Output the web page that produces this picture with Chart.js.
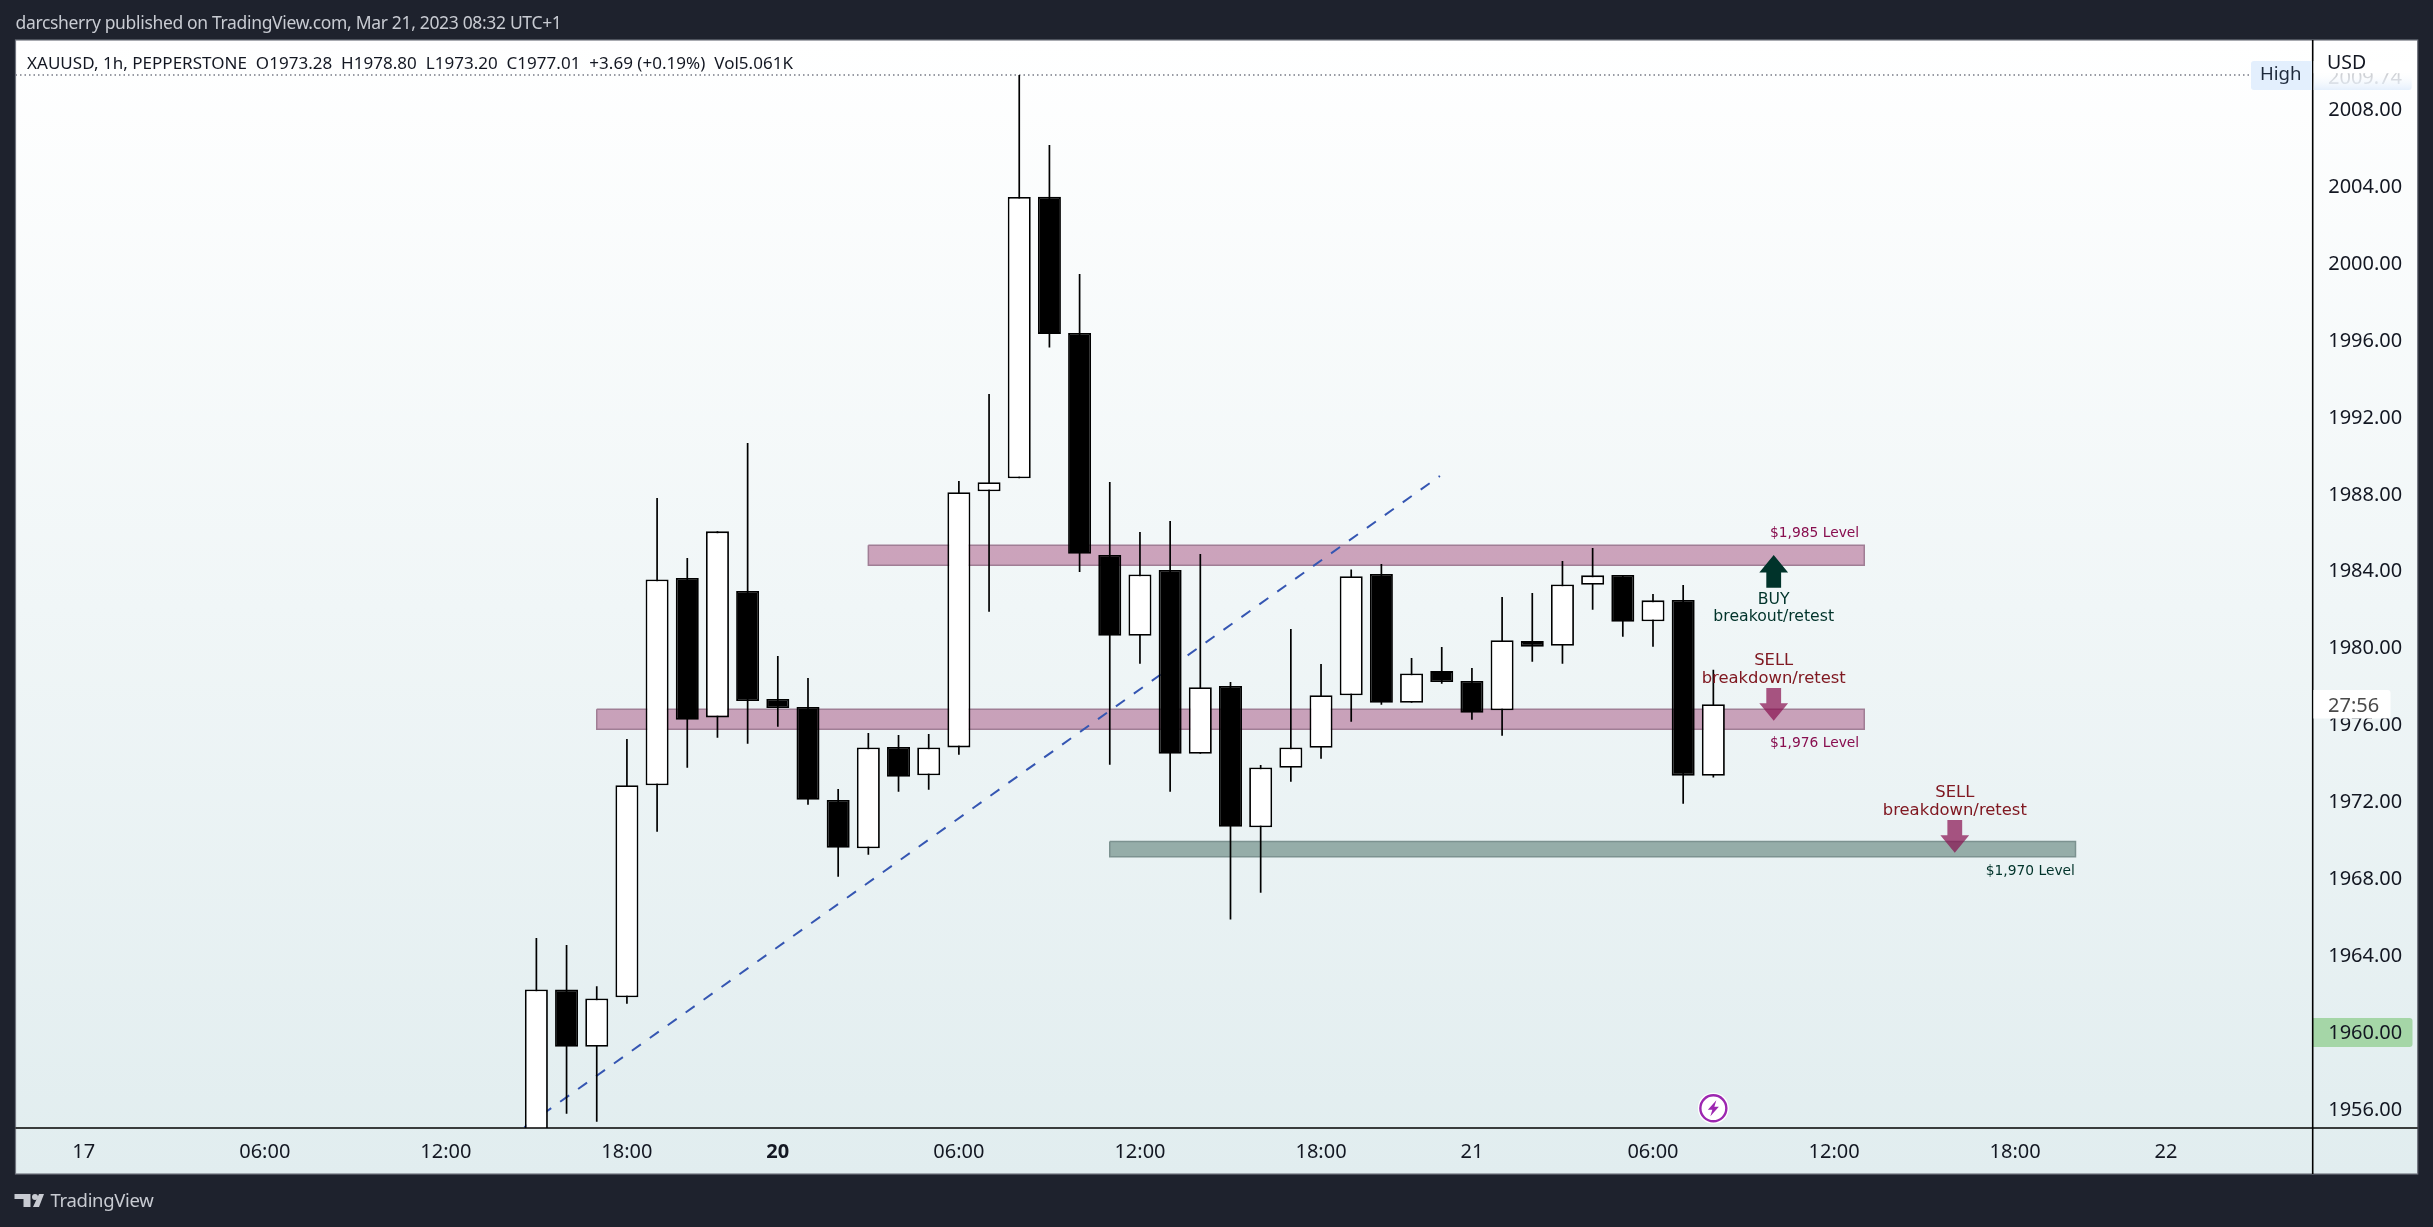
<!DOCTYPE html>
<html>
<head>
<meta charset="utf-8">
<script src="https://cdn.jsdelivr.net/npm/chart.js@4"></script>
<style>
html,body{margin:0;padding:0;background:#1e222d;width:2433px;height:1227px;overflow:hidden}
canvas{position:absolute;left:0;top:0;display:block}
.t{position:absolute;white-space:pre;font-family:"Noto Sans",sans-serif;line-height:1}
svg{position:absolute;left:0;top:0}
</style>
</head>
<body>
<canvas id="c" width="2433" height="1227"></canvas>
<div class="t" id="head" data-w="546" style="left:15.5px;top:14px;font-size:17.5px;color:#c8cbd2">darcsherry published on TradingView.com, Mar 21, 2023 08:32 UTC+1</div>
<div class="t" id="leg" data-w="766" style="left:27px;top:54px;font-size:17px;color:#131722">XAUUSD, 1h, PEPPERSTONE  O1973.28  H1978.80  L1973.20  C1977.01  +3.69 (+0.19%)  Vol5.061K</div>
<div class="t" id="usd" style="left:2327px;top:51.5px;font-size:19.5px;color:#131722">USD</div>
<div class="t" id="high" style="left:2260px;top:64px;font-size:18.6px;color:#1e2a3c">High</div>
<svg width="60" height="1227"><g fill="#c8cbd2"><path d="M14.5 1194h16v13h-7v-8h-9z"/><circle cx="35" cy="1197" r="3"/><path d="M33 1207l6-13h5l-5 13z"/></g></svg>
<div class="t" id="tv" data-w="103" style="left:50.5px;top:1191px;font-size:18.5px;color:#c8cbd2">TradingView</div>
<script>
// Candles, one per hour, oldest first
const candleIdx = [0,1,2,3,4,5,6,7,8,9,10,11,12,13,14,15,16,17,18,19,20,21,22,23,24,25,26,27,28,29,30,31,32,33,34,35,36,37,38,39];
const opens  = [1953.8,1962.17,1959.19,1961.76,1972.79,1983.57,1976.32,1982.90,1977.28,1976.86,1972.02,1969.51,1974.78,1973.31,1974.76,1988.08,1988.76,2003.40,1996.32,1984.77,1980.57,1983.99,1974.43,1977.95,1970.60,1973.70,1974.74,1977.47,1983.78,1977.08,1978.73,1978.21,1976.69,1980.29,1980.05,1983.22,1983.73,1981.32,1982.43,1973.28];
const highs  = [1964.84,1964.48,1962.34,1975.20,1987.73,1984.61,1986.00,1990.60,1979.51,1978.37,1972.59,1975.51,1975.40,1975.46,1988.62,1993.15,2009.74,2006.10,1999.39,1988.57,1985.97,1986.54,1984.82,1978.16,1973.84,1980.92,1979.10,1984.02,1984.30,1979.41,1979.98,1978.89,1982.58,1982.79,1984.46,1985.13,1983.73,1982.74,1983.21,1978.80];
const lows   = [1953.5,1955.70,1955.28,1961.42,1970.37,1973.70,1975.26,1974.95,1975.84,1971.78,1968.03,1969.18,1972.45,1972.56,1974.38,1981.82,1988.76,1995.56,1983.89,1973.86,1979.11,1972.45,1974.43,1965.81,1967.20,1972.97,1974.17,1976.10,1976.98,1977.08,1978.07,1976.20,1975.37,1979.22,1979.11,1981.92,1980.52,1980.00,1971.83,1973.20];
const closes = [1962.17,1959.19,1961.70,1972.79,1983.50,1976.20,1986.00,1977.17,1976.81,1972.04,1969.54,1974.76,1973.23,1974.76,1988.03,1988.55,2003.39,1996.27,1984.83,1980.57,1983.76,1974.43,1977.89,1970.63,1973.72,1974.76,1977.47,1983.66,1977.08,1978.61,1978.16,1976.56,1980.33,1980.00,1983.24,1983.71,1981.30,1982.41,1973.29,1977.01];

// Axes
const timeTickIdx = [-15,-9,-3,3,8,14,20,26,31,37,43,49,54];
const timeTickLabels = ["17","06:00","12:00","18:00","20","06:00","12:00","18:00","21","06:00","12:00","18:00","22"];
const priceTicks = [1956,1960,1964,1968,1972,1976,1980,1984,1988,1992,1996,2000,2004,2008];
const highPrice = 2009.74;
const lastPrice = 1960;

// Drawings
const zoneLeft   = [11,2,19];
const zoneRight  = [44,44,51];
const zoneTop    = [1985.27,1976.74,1969.87];
const zoneBottom = [1984.23,1975.70,1969.07];
const trendIdx   = [-0.4,29.94];
const trendPrice = [1955,1988.88];
const arrowIdx   = [41,41,47];
const arrowTip   = [1984.77,1976.15,1969.28];
const arrowDir   = [1,-1,-1];
const levelText  = ["$1,985 Level","$1,976 Level","$1,970 Level"];
const levelIdx   = [43.83,43.83,50.98];
const levelPrice = [1985.98,1975.06,1968.43];
const noteText   = ["BUY","breakout/retest","SELL","breakdown/retest","SELL","breakdown/retest"];
const noteIdx    = [41,41,41,41,47,47];
const notePrice  = [1982.52,1981.65,1979.36,1978.42,1972.49,1971.55];
const eventIdx   = 39;
const timerText  = "27:56";

const FX = {l:15.5,t:40,r:2417.7,b:1174};
const AXISFONT = '"Noto Sans",sans-serif';
const TEXT_DROP = 2;          // px: glyphs sit this far below the value they label
const TICK_DROP = 0.1;        // same drop for the price tick labels, in price units

const framePlugin = {
  id:'frame',
  beforeDraw(ch){
    const c=ch.ctx, y=ch.scales.y;
    c.save();
    c.fillStyle='#1e222d'; c.fillRect(0,0,2433,1227);
    const g=c.createLinearGradient(0,FX.t,0,FX.b);
    g.addColorStop(0,'#ffffff'); g.addColorStop(1,'#e1edef');
    c.fillStyle=g; c.fillRect(FX.l,FX.t,FX.r-FX.l,FX.b-FX.t);
    c.strokeStyle='#70747e'; c.lineWidth=1.2;
    c.strokeRect(FX.l,FX.t,FX.r-FX.l,FX.b-FX.t);
    // last-price tag sits under the library's tick label
    const yy=y.getPixelForValue(lastPrice);
    c.fillStyle='#a5d6a7';
    c.beginPath(); c.roundRect(ch.chartArea.right,yy-13,99.8,29,[0,3,3,0]); c.fill();
    c.restore();
  },
  beforeDatasetsDraw(ch){
    const c=ch.ctx, y=ch.scales.y;
    c.save();
    c.strokeStyle='#787b86'; c.lineWidth=1.3; c.setLineDash([1.5,3]);
    const hy=y.getPixelForValue(highPrice);
    c.beginPath(); c.moveTo(FX.l,hy); c.lineTo(2251,hy); c.stroke();
    c.restore();
  },
  afterDatasetsDraw(ch){
    const c=ch.ctx, x=ch.scales.x, y=ch.scales.y;
    c.save();
    // arrows
    arrowIdx.forEach((ai,k)=>{
      const px=x.getPixelForValue(ai), py=y.getPixelForValue(arrowTip[k]), d=arrowDir[k];
      c.fillStyle = d>0 ? '#00332a' : 'rgba(136,14,79,0.7)';
      c.beginPath();
      c.moveTo(px,py);
      c.lineTo(px+14.4,py+d*17.5);
      c.lineTo(px+7.4,py+d*17.5);
      c.lineTo(px+7.4,py+d*32.7);
      c.lineTo(px-7.4,py+d*32.7);
      c.lineTo(px-7.4,py+d*17.5);
      c.lineTo(px-14.4,py+d*17.5);
      c.closePath(); c.fill();
    });
    // level captions
    c.textBaseline='middle';
    c.font='13.8px "DejaVu Sans"'; c.textAlign='right';
    levelText.forEach((s,k)=>{
      c.fillStyle = k<2 ? '#880e4f' : '#00332a';
      c.fillText(s,x.getPixelForValue(levelIdx[k]),y.getPixelForValue(levelPrice[k])+TEXT_DROP);
    });
    // notes
    c.textAlign='center';
    noteText.forEach((s,k)=>{
      c.fillStyle = k<2 ? '#00332a' : '#801922';
      c.font = (k<2?'15.7px':'16.4px')+' "DejaVu Sans"';
      c.fillText(s,x.getPixelForValue(noteIdx[k]),y.getPixelForValue(notePrice[k])+TEXT_DROP);
    });
    // event marker
    const ex=x.getPixelForValue(eventIdx), ey=1108.3;
    c.fillStyle='#ffffff'; c.beginPath(); c.arc(ex,ey,15.5,0,Math.PI*2); c.fill();
    c.strokeStyle='#9c27b0'; c.lineWidth=2.4; c.beginPath(); c.arc(ex,ey,13,0,Math.PI*2); c.stroke();
    c.fillStyle='#9c27b0'; c.beginPath();
    [[3,-8],[-5.5,1.5],[-1,1.5],[-3,8],[5.5,-1.5],[1,-1.5]].forEach((p,i)=>{i?c.lineTo(ex+p[0],ey+p[1]):c.moveTo(ex+p[0],ey+p[1]);});
    c.closePath(); c.fill();
    c.restore();
  },
  afterDraw(ch){
    const c=ch.ctx, y=ch.scales.y, a=ch.chartArea;
    c.save();
    // axis rules
    c.strokeStyle='#000000'; c.lineWidth=1.6;
    c.beginPath(); c.moveTo(FX.l,a.bottom); c.lineTo(FX.r,a.bottom); c.stroke();
    c.beginPath(); c.moveTo(a.right,FX.t); c.lineTo(a.right,FX.b); c.stroke();
    // hidden high price under its tag
    const hy=y.getPixelForValue(highPrice);
    c.font='20px '+AXISFONT; c.textAlign='left'; c.textBaseline='middle';
    c.fillStyle='#b7bac0'; c.fillText(highPrice.toFixed(2),2328,hy+3);
    const g=c.createLinearGradient(0,61,0,90);
    g.addColorStop(0,'#ffffff'); g.addColorStop(0.4,'rgba(255,255,255,1)');
    g.addColorStop(0.44,'rgba(255,255,255,0.3)'); g.addColorStop(1,'rgba(226,238,252,0.9)');
    c.fillStyle=g; c.beginPath(); c.roundRect(a.right+1,61,98,29,[0,3,3,0]); c.fill();
    c.fillStyle='#e3effd'; c.beginPath(); c.roundRect(2251,61,a.right-2251-0.8,29,[3,0,0,3]); c.fill();
    // countdown tag
    c.fillStyle='#ffffff'; c.beginPath(); c.roundRect(a.right+0.8,690,77,28.6,[0,3,3,0]); c.fill();
    c.fillStyle='#4a4a4a'; c.font='20px '+AXISFONT; c.fillText(timerText,2328,706);
    c.restore();
  }
};

const zoneFills = ['rgba(136,14,79,0.36)','rgba(136,14,79,0.36)','rgba(0,50,35,0.36)'];
const zoneEdges = ['#a07e95','#a07e95','#7c9290'];
const zoneSets = zoneLeft.map((l,k)=>({
  type:'line', order:5,
  data:[{x:l,y:zoneTop[k]},{x:zoneRight[k],y:zoneTop[k]},{x:zoneRight[k],y:zoneBottom[k]},{x:l,y:zoneBottom[k]},{x:l,y:zoneTop[k]}],
  borderColor:zoneEdges[k], borderWidth:1.5, backgroundColor:zoneFills[k], fill:'shape', pointRadius:0, tension:0
}));

new Chart(document.getElementById('c'),{
  type:'bar',
  plugins:[framePlugin],
  data:{datasets:[
    {type:'bar',order:1,data:candleIdx.map((i,k)=>({x:i,y:[opens[k],closes[k]]})),
     backgroundColor:candleIdx.map((i,k)=>closes[k]>=opens[k]?'#ffffff':'#000000'),
     borderColor:'#000000',borderWidth:1.8,borderSkipped:false,inflateAmount:0,barThickness:23,grouped:false},
    {type:'bar',order:2,data:candleIdx.map((i,k)=>({x:i,y:[lows[k],highs[k]]})),
     backgroundColor:'#000000',borderWidth:0,inflateAmount:0,barThickness:1.7,grouped:false},
    {type:'line',order:4,data:trendIdx.map((i,k)=>({x:i,y:trendPrice[k]})),
     borderColor:'#3556b2',borderWidth:2,borderDash:[11,11],pointRadius:0,fill:false,tension:0},
    ...zoneSets
  ]},
  options:{
    responsive:false, animation:false, devicePixelRatio:1,
    events:[],
    layout:{padding:{left:15.5,top:40,right:15.3,bottom:53}},
    plugins:{legend:{display:false},tooltip:{enabled:false},title:{display:false}},
    scales:{
      x:{type:'linear',position:'bottom',offset:false,min:-17.26,max:58.86,
        grid:{display:false,drawTicks:false,offset:false},border:{display:false},
        afterBuildTicks(s){s.ticks=timeTickIdx.map(v=>({value:v}));},
        afterFit(s){s.height=46;},
        ticks:{autoSkip:false,maxRotation:0,padding:12,color:'#131722',
          font:(ctx)=>({family:'"Noto Sans",sans-serif',size:20,weight:(timeTickLabels[ctx.index]==='20')?'bold':'normal'}),
          callback:(v,i)=>timeTickLabels[i]}
      },
      y:{type:'linear',position:'right',min:1954.96,max:2011.56,
        grid:{display:false,drawTicks:false},border:{display:false},
        afterBuildTicks(s){s.ticks=priceTicks.map(v=>({value:v-TICK_DROP}));},
        afterFit(s){s.width=105;},
        ticks:{autoSkip:false,maxRotation:0,padding:15.5,crossAlign:'near',color:'#131722',
          font:{family:'"Noto Sans",sans-serif',size:20},
          callback:(v,i)=>priceTicks[i].toFixed(2)}
      }
    }
  }
});

// Fit overlay text widths to the reference
document.querySelectorAll('.t[data-w]').forEach(el=>{
  const n=el.textContent.length, w=el.getBoundingClientRect().width, t=+el.dataset.w;
  el.style.letterSpacing=((t-w)/n)+'px';
});
</script>
</body>
</html>
